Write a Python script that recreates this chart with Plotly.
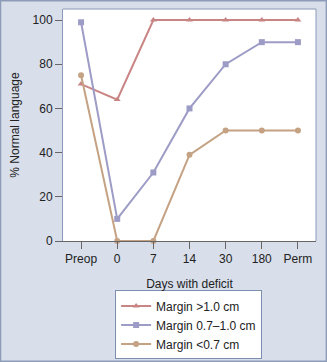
import plotly.graph_objects as go

categories = ["Preop", "0", "7", "14", "30", "180", "Perm"]
margin_gt_1 = [71, 64, 100, 100, 100, 100, 100]
margin_07_1 = [99, 10, 31, 60, 80, 90, 90]
margin_lt_07 = [75, 0, 0, 39, 50, 50, 50]
y_ticks = [0, 20, 40, 60, 80, 100]

series = [
    ("Margin >1.0 cm", margin_gt_1, "#c98584", "triangle-up"),
    ("Margin 0.7\u20131.0 cm", margin_07_1, "#9d9cc6", "square"),
    ("Margin <0.7 cm", margin_lt_07, "#c4a283", "circle"),
]

fig = go.Figure()
for name, vals, color, sym in series:
    fig.add_trace(go.Scatter(
        x=categories, y=vals, name=name, mode="lines+markers",
        line=dict(color=color, width=2),
        marker=dict(symbol=sym, size=6, color=color),
        cliponaxis=False,
    ))

font = "Liberation Sans, Arial, sans-serif"
fig.update_layout(
    width=327, height=362,
    margin=dict(l=63, r=11, t=9, b=121, autoexpand=False),
    paper_bgcolor="#d8deea",
    plot_bgcolor="#ffffff",
    font=dict(family=font, size=12, color="#222222"),
    showlegend=True,
    legend=dict(
        x=0.206, y=-0.362, xanchor="left", yanchor="middle",
        bgcolor="#ffffff", bordercolor="#7d8fb0", borderwidth=1,
        font=dict(size=12, color="#222222"),
        tracegroupgap=0, itemwidth=30,
    ),
    xaxis=dict(
        type="category", range=[-0.5, 6.5],
        showline=True, linecolor="#666666", linewidth=1,
        ticks="outside", ticklen=7, tickcolor="#666666",
        showgrid=False, zeroline=False, automargin=False,
        title=dict(text="Days with deficit", standoff=14, font=dict(size=12)),
        tickfont=dict(size=12),
    ),
    yaxis=dict(
        range=[0, 105], tickvals=y_ticks,
        showline=True, linecolor="#8a9aba", linewidth=1,
        ticks="outside", ticklen=7, tickcolor="#666666",
        showgrid=False, zeroline=False, automargin=False,
        title=dict(text="% Normal language", standoff=10, font=dict(size=12)),
        tickfont=dict(size=12),
    ),
    shapes=[
        dict(type="line", xref="paper", yref="paper", x0=0, x1=1, y0=1, y1=1,
             line=dict(color="#8a9aba", width=1)),
        dict(type="line", xref="paper", yref="paper", x0=1, x1=1, y0=0, y1=1,
             line=dict(color="#8a9aba", width=1)),
        dict(type="rect", xref="paper", yref="paper",
             x0=-0.248, x1=1.042, y0=-0.519, y1=1.037,
             line=dict(color="#8d9cb8", width=2), fillcolor="rgba(0,0,0,0)"),
    ],
)

fig.write_html("out.html")
